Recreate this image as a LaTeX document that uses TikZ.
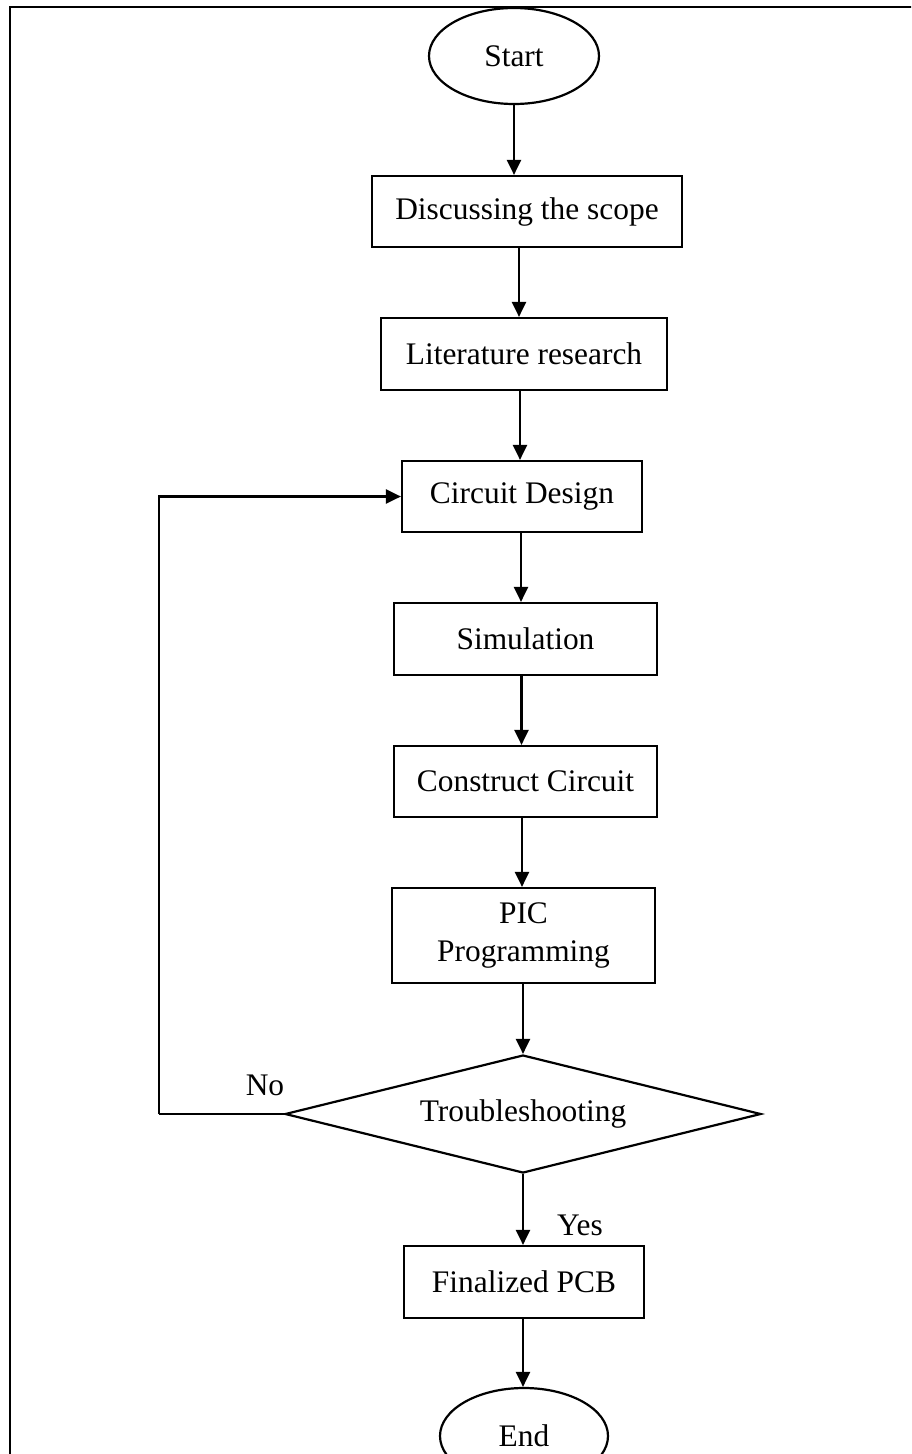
\documentclass[tikz,border=0pt]{standalone}
\usepackage{fontspec}
\setmainfont{Liberation Serif}
\usetikzlibrary{shapes.geometric,arrows.meta}
\tikzset{
  every node/.style={font=\fontsize{31.4}{37.5}\selectfont},
  procbox/.style={draw, line width=2.2pt, rectangle, inner sep=0pt, align=center},
  termnode/.style={draw, line width=2.2pt, ellipse, inner sep=0pt, minimum width=170pt, minimum height=96pt},
  decnode/.style={draw, line width=2.2pt, diamond, aspect=4.03, inner sep=0pt, minimum width=476pt, minimum height=118pt},
  flow/.style={line width=2.2pt, -{Triangle[width=14pt,length=15pt]}},
  plainline/.style={line width=2.2pt},
  framing/.style={line width=2.6pt},
  lbl/.style={inner sep=0pt}
}
\begin{document}
\begin{tikzpicture}[x=1pt,y=-1pt]
\useasboundingbox (0,0) rectangle (911,1454);
\clip (0,0) rectangle (911,1454);
\fill[white] (0,0) rectangle (911,1454);
% frame (top and left edges visible)
\coordinate (fA) at (10,1460);
\coordinate (fB) at (10,7);
\coordinate (fC) at (920,7);
\draw[framing] (fA) -- (fB) -- (fC);

\node[termnode] (start) at (514,56) {Start};
\node[procbox, minimum width=310pt, minimum height=71pt] (scope) at (527,211.5) {Discussing the scope};
\node[procbox, minimum width=286pt, minimum height=72pt] (lit) at (524,354) {Literature research};
\node[procbox, minimum width=240pt, minimum height=71pt] (design) at (522,496.5) {Circuit Design};
\node[procbox, minimum width=263pt, minimum height=72pt] (sim) at (525.5,639) {Simulation};
\node[procbox, minimum width=263pt, minimum height=71pt] (cons) at (525.5,781.5) {Construct Circuit};
\node[procbox, minimum width=263pt, minimum height=95pt] (pic) at (523.5,935.5) {PIC\\Programming};
\node[decnode] (dec) at (523,1114) {Troubleshooting};
\node[procbox, minimum width=240pt, minimum height=72pt] (fin) at (524,1282) {Finalized PCB};
\node[termnode, minimum width=168pt] (end) at (524,1436) {End};

\node[lbl] (no) at (265,1085) {No};
\node[lbl] (yes) at (580,1225) {Yes};

\draw[flow] (start.south) -- (start.south |- scope.north);
\draw[flow] ([xshift=-8pt]scope.south) -- ([xshift=-8pt]scope.south |- lit.north);
\draw[flow] ([xshift=-4pt]lit.south) -- ([xshift=-4pt]lit.south |- design.north);
\draw[flow] ([xshift=-1pt]design.south) -- ([xshift=-1pt]design.south |- sim.north);
\draw[flow] ([xshift=-4pt]sim.south) -- ([xshift=-4pt]sim.south |- cons.north);
\draw[flow] ([xshift=-3.5pt]cons.south) -- ([xshift=-3.5pt]cons.south |- pic.north);
\draw[flow] ([xshift=-0.5pt]pic.south) -- (dec.north);
\draw[flow] (dec.south) -- (dec.south |- fin.north);
\draw[flow] ([xshift=-1pt]fin.south) -- ([xshift=-1pt]fin.south |- end.north);

\coordinate (fb) at (159,1114);
\draw[plainline] (dec.west) -- (fb);
\draw[flow] (fb) |- (design.west);
\end{tikzpicture}
\end{document}
